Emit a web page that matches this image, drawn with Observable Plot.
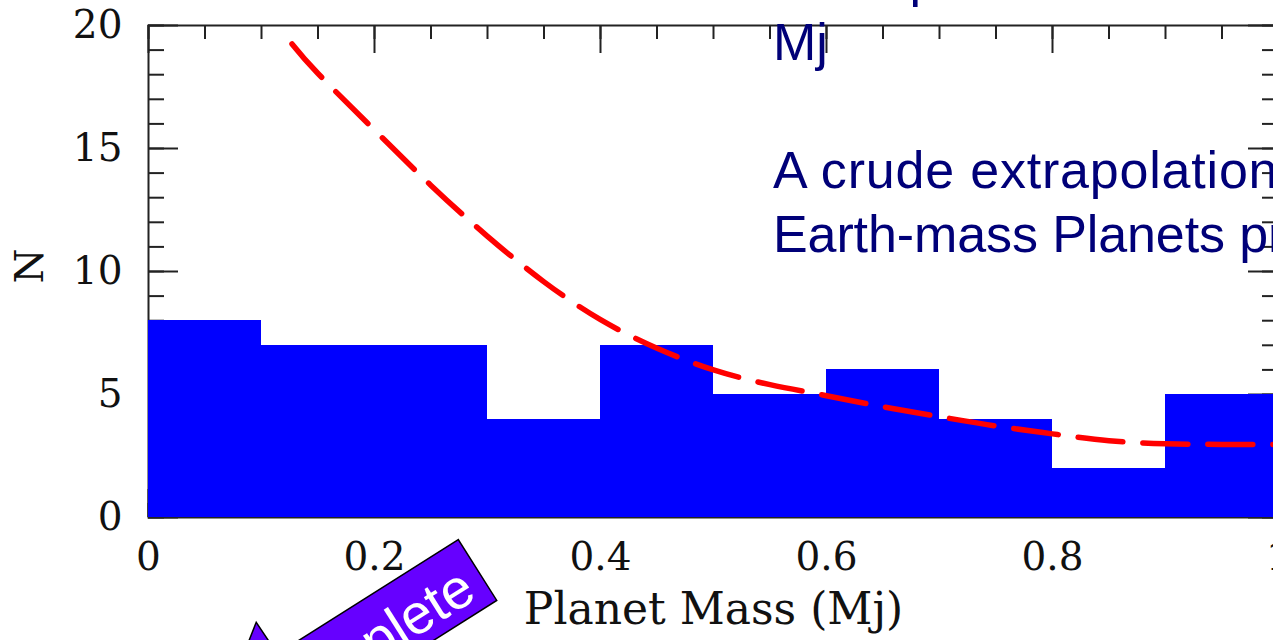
<!DOCTYPE html>
<html>
<head>
<meta charset="utf-8">
<script src="https://cdn.jsdelivr.net/npm/d3@7"></script>
<script src="https://cdn.jsdelivr.net/npm/@observablehq/plot@0.6"></script>
<style>
  html, body { margin: 0; padding: 0; background: #fff; }
  body { width: 1273px; height: 640px; overflow: hidden; position: relative; }
  #chart { position: absolute; left: 0; top: 0; width: 1310px; height: 640px; }
  #chart svg { max-width: none !important; width: 1310px !important; height: 640px !important; }
  .note {
    position: absolute; left: 773px; top: -54px;
    font-family: "Liberation Sans", Arial, sans-serif;
    font-size: 52px; line-height: 64px; color: #000078;
    white-space: nowrap;
  }
  .note div { height: 64px; }
  #callout { position: absolute; left: 0; top: 0; }
</style>
</head>
<body>
<div id="chart"></div>
<div class="note">
  <div style="margin-left:-11px">Rise up to 0.1</div>
  <div>Mj</div>
  <div></div>
  <div style="letter-spacing:0.8px">A crude extrapolation to</div>
  <div style="letter-spacing:-0.1px">Earth-mass Planets predicts many</div>
</div>
<svg id="callout" width="1273" height="640">
  <g transform="translate(477.5,570) rotate(-32.3)">
    <path d="M0,-36 L-214,-36 L-215,-74 L-267,-36 L-620,-36 L-620,36 L0,36 Z"
          fill="#6600ff" stroke="#000" stroke-width="1.5" stroke-linejoin="miter"/>
    <text x="-14" y="24" text-anchor="end" fill="#fff"
          font-family="'Liberation Sans', Arial, sans-serif" font-size="56">Incomplete</text>
  </g>
</svg>
<script>
// Histogram of planet masses (bins of 0.1 Mj)
const binLow  = [0.0, 0.1, 0.2, 0.3, 0.4, 0.5, 0.6, 0.7, 0.8, 0.9];
const binHigh = [0.1, 0.2, 0.3, 0.4, 0.5, 0.6, 0.7, 0.8, 0.9, 1.0];
const planetCounts = [8, 7, 7, 4, 7, 5, 6, 4, 2, 5];

// Smooth fit drawn as a dashed curve
const fitMass = [0.127, 0.15, 0.2, 0.25, 0.3, 0.35, 0.4, 0.45, 0.5, 0.55, 0.6, 0.65, 0.7, 0.75, 0.8, 0.85, 0.9, 0.95, 1.0];
const fitN    = [19.25, 18.05, 15.75, 13.5, 11.43, 9.58, 8.04, 6.88, 6.0, 5.4, 4.95, 4.5, 4.1, 3.72, 3.4, 3.12, 3.0, 2.97, 2.97];

// Axis ticks and labels
const xMajor = [0, 0.2, 0.4, 0.6, 0.8, 1];
const xMinor = d3.range(0, 1.0001, 0.05);
const yMajor = [0, 5, 10, 15, 20];
const yMinor = d3.range(0, 20.5, 1);
const xTitle = "Planet Mass (Mj)";
const yTitle = "N";

const W = 1310, H = 640;
const mL = 148, mR = 32, mT = 25, mB = 123;
const innerW = W - mL - mR, innerH = H - mT - mB;
const axisInk = "#222";

const bins = binLow.map((lo, i) => ({lo, hi: binHigh[i], n: planetCounts[i]}));
const fit = fitMass.map((m, i) => ({m, n: fitN[i]}));

const tick = (values, dir, len) => {
  const opts = {stroke: axisInk, strokeWidth: 2};
  if (dir === "top")    return Plot.tickX(values, {...opts, x: d => d, insetBottom: innerH - len});
  if (dir === "bottom") return Plot.tickX(values, {...opts, x: d => d, insetTop: innerH - len});
  if (dir === "left")   return Plot.tickY(values, {...opts, y: d => d, insetRight: innerW - len});
  return Plot.tickY(values, {...opts, y: d => d, insetLeft: innerW - len});
};

const chart = Plot.plot({
  width: W, height: H,
  marginLeft: mL, marginRight: mR, marginTop: mT, marginBottom: mB,
  style: {fontFamily: "'DejaVu Serif', serif", fontSize: "39px", color: "#111", background: "transparent", overflow: "visible"},
  x: {domain: [0, 1], ticks: xMajor, tickFormat: d => String(d), tickSize: 0, tickPadding: 25, label: null},
  y: {domain: [0, 20], ticks: yMajor, tickSize: 0, tickPadding: 26, label: null},
  marks: [
    Plot.frame({stroke: axisInk, strokeWidth: 2}),
    tick(xMinor, "top", 14), tick(xMajor, "top", 28),
    tick(xMinor, "bottom", 14), tick(xMajor, "bottom", 28),
    tick(yMinor, "left", 16), tick(yMajor, "left", 30),
    tick(yMinor, "right", 16), tick(yMajor, "right", 30),
    Plot.rectY(bins, {x1: "lo", x2: "hi", y1: 0, y2: "n", fill: "#0000ff", shapeRendering: "crispEdges"}),
    Plot.line(fit, {x: "m", y: "n", stroke: "#ff0000", strokeWidth: 5.5, strokeDasharray: "45,20", curve: "natural"}),
    Plot.text([xTitle], {text: d => d, frameAnchor: "bottom", dy: 106, fontSize: 44, fill: "#111"}),
    Plot.text([yTitle], {text: d => d, frameAnchor: "left", dx: -118, dy: 12, rotate: -90, fontSize: 40, fill: "#111"})
  ]
});
document.getElementById("chart").appendChild(chart);
</script>
</body>
</html>
